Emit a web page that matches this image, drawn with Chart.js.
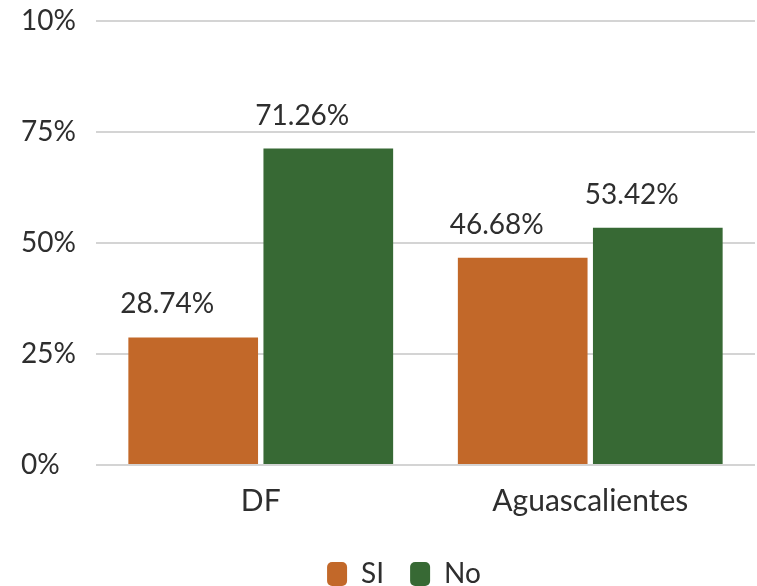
<!DOCTYPE html>
<html>
<head>
<meta charset="utf-8">
<script src="https://cdn.jsdelivr.net/npm/chart.js@4.4.1/dist/chart.umd.min.js"></script>
<style>
    html, body { margin: 0; padding: 0; background: #ffffff; }
    #chart-wrap { width: 757px; height: 586px; position: relative; }
</style>
</head>
<body>
<div id="chart-wrap"><canvas id="surveyChart"></canvas></div>
<script>
// Chart data
const categories = ['DF', 'Aguascalientes'];
const siValues = [28.74, 46.68];
const noValues = [71.26, 53.42];
const tickLabels = ['0%', '25%', '50%', '75%', '10%'];

const FONT = 'Lato';
const TEXT_COLOR = '#2e2e2e';

/**
 * Draws the percentage above each bar
 */
const valueLabels = {
    id: 'valueLabels',
    afterDatasetsDraw(chart) {
        const ctx = chart.ctx;
        ctx.save();
        ctx.font = '28px ' + FONT;
        ctx.fillStyle = TEXT_COLOR;
        ctx.textAlign = 'center';
        ctx.textBaseline = 'alphabetic';
        chart.data.datasets.forEach((dataset, i) => {
            chart.getDatasetMeta(i).data.forEach((bar, j) => {
                const text = dataset.data[j].toFixed(2) + '%';
                ctx.fillText(text, bar.x - 26, bar.y - 24);
            });
        });
        ctx.restore();
    }
};

/**
 * Nudge the legend a little right of the canvas centre
 */
const legendShift = {
    id: 'legendShift',
    afterLayout(chart) {
        if (chart.legend) {
            chart.legend.left += 16;
            chart.legend.right += 16;
        }
    }
};

document.addEventListener('DOMContentLoaded', () => {
    const ctx = document.getElementById('surveyChart').getContext('2d');

    new Chart(ctx, {
        type: 'bar',
        data: {
            labels: categories,
            datasets: [
                {
                    label: 'SI',
                    data: siValues,
                    backgroundColor: '#C26829',
                    categoryPercentage: 0.82,
                    barPercentage: 0.96
                },
                {
                    label: 'No',
                    data: noValues,
                    backgroundColor: '#376934',
                    categoryPercentage: 0.82,
                    barPercentage: 0.96
                }
            ]
        },
        options: {
            responsive: true,
            maintainAspectRatio: false,
            animation: false,
            layout: {
                // negative bottom pulls the legend closer to the canvas edge
                padding: { left: 21, top: 21, right: 2, bottom: -12 }
            },
            scales: {
                x: {
                    grid: { display: false },
                    border: { display: false },
                    ticks: {
                        color: TEXT_COLOR,
                        font: { family: FONT, size: 30 },
                        padding: 10
                    },
                    afterFit: function(scale) {
                        // extra room between category labels and legend
                        scale.height += 5;
                    }
                },
                y: {
                    min: 0,
                    max: 100,
                    border: { display: false },
                    grid: {
                        color: '#D4D4D4',
                        lineWidth: 2,
                        drawTicks: false
                    },
                    ticks: {
                        stepSize: 25,
                        color: TEXT_COLOR,
                        font: { family: FONT, size: 28 },
                        crossAlign: 'far',
                        padding: 0,
                        callback: function(value, index) {
                            return tickLabels[index];
                        }
                    },
                    afterFit: function(scale) {
                        scale.width = 75;
                    }
                }
            },
            plugins: {
                legend: {
                    position: 'bottom',
                    labels: {
                        color: TEXT_COLOR,
                        font: { family: FONT, size: 28 },
                        boxWidth: 20,
                        boxHeight: 24,
                        useBorderRadius: true,
                        borderRadius: 5,
                        padding: 26
                    }
                },
                tooltip: { enabled: false }
            }
        },
        plugins: [valueLabels, legendShift]
    });
});
</script>
</body>
</html>
